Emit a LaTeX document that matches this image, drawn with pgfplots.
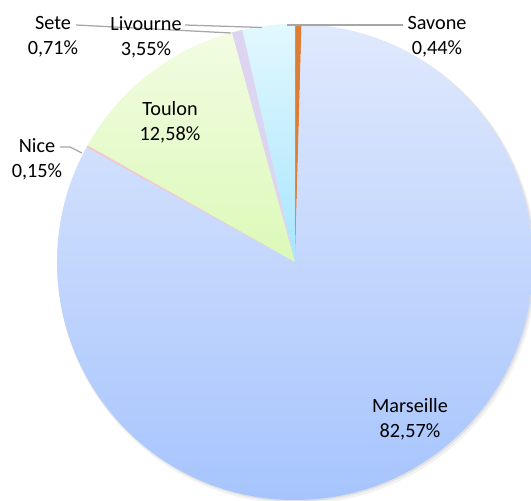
\documentclass[border=0pt]{standalone}
\usepackage{pgfplots}
\pgfplotsset{compat=1.18}
\usepackage{pgfplotstable}
\usepackage{fontspec}
\setmainfont{Carlito}
\definecolor{leader}{HTML}{A6A6A6}
\definecolor{savB}{HTML}{DC7F35}
\definecolor{marT}{HTML}{E0E9FD}
\definecolor{marB}{HTML}{A6C4FD}
\definecolor{nice}{HTML}{F5C6CF}
\definecolor{touT}{HTML}{F2FCE2}
\definecolor{touB}{HTML}{DCF9B8}
\definecolor{sete}{HTML}{DCD4F1}
\definecolor{livT}{HTML}{E2F8FE}
\definecolor{livB}{HTML}{A8E5FE}
\pgfplotstableread{
name value
Savone 0.44
Marseille 82.57
Nice 0.15
Toulon 12.58
Sete 0.71
Livourne 3.55
}\piedata
\begin{document}
\begin{tikzpicture}[lbl/.style={font=\fontsize{14.4}{17.8}\selectfont, align=center, text=black, inner sep=0pt}]
\pgfplotstablegetelem{0}{value}\of\piedata \let\vA\pgfplotsretval
\pgfplotstablegetelem{1}{value}\of\piedata \let\vB\pgfplotsretval
\pgfplotstablegetelem{2}{value}\of\piedata \let\vC\pgfplotsretval
\pgfplotstablegetelem{3}{value}\of\piedata \let\vD\pgfplotsretval
\pgfplotstablegetelem{4}{value}\of\piedata \let\vE\pgfplotsretval
\pgfplotstablegetelem{5}{value}\of\piedata \let\vF\pgfplotsretval
\pgfmathsetmacro\aA{90}
\pgfmathsetmacro\aB{\aA-3.6*\vA}
\pgfmathsetmacro\aC{\aB-3.6*\vB}
\pgfmathsetmacro\aD{\aC-3.6*\vC}
\pgfmathsetmacro\aE{\aD-3.6*\vD}
\pgfmathsetmacro\aF{\aE-3.6*\vE}
\pgfmathsetmacro\aG{\aF-3.6*\vF}
\begin{axis}[
  scale only axis, width=13.275cm, height=12.525cm,
  xmin=0, xmax=531, ymin=0, ymax=501,
  hide axis, clip=true,
]
% shadow
\fill[black!5] (axis cs:297,236.5) circle[radius=5.99cm];
\fill[black!12] (axis cs:296,238) circle[radius=5.965cm];
% wedges
\fill[savB]
  (axis cs:295,239) -- (axis cs:{295+238*cos(\aA)},{239+238*sin(\aA)}) arc[start angle=\aA, end angle=\aB, radius=5.95cm] -- cycle;
\shade[top color=marT, bottom color=marB]
  (axis cs:295,239) -- (axis cs:{295+238*cos(\aB)},{239+238*sin(\aB)}) arc[start angle=\aB, end angle=\aC, radius=5.95cm] -- cycle;
\fill[nice]
  (axis cs:295,239) -- (axis cs:{295+238*cos(\aC)},{239+238*sin(\aC)}) arc[start angle=\aC, end angle=\aD, radius=5.95cm] -- cycle;
\shade[top color=touT, bottom color=touB]
  (axis cs:295,239) -- (axis cs:{295+238*cos(\aD)},{239+238*sin(\aD)}) arc[start angle=\aD, end angle=\aE, radius=5.95cm] -- cycle;
\fill[sete]
  (axis cs:295,239) -- (axis cs:{295+238*cos(\aE)},{239+238*sin(\aE)}) arc[start angle=\aE, end angle=\aF, radius=5.95cm] -- cycle;
\shade[top color=livT, bottom color=livB]
  (axis cs:295,239) -- (axis cs:{295+238*cos(\aF)},{239+238*sin(\aF)}) arc[start angle=\aF, end angle=\aG, radius=5.95cm] -- cycle;
% leader lines
\draw[leader, line width=0.9pt] (axis cs:287,476) -- (axis cs:403,476);
\draw[leader, line width=0.9pt] (axis cs:185,476) -- (axis cs:262,473.5);
\draw[leader, line width=0.9pt] (axis cs:76,476) -- (axis cs:231,468);
\draw[leader, line width=0.9pt] (axis cs:60,354) -- (axis cs:70,354) -- (axis cs:82,348);
% labels
\node[lbl] at (axis cs:410,82) {Marseille\\82,57\%};
\node[lbl] at (axis cs:170,379) {Toulon\\12,58\%};
\node[lbl] at (axis cs:53,464) {Sete\\0,71\%};
\node[lbl] at (axis cs:146,464) {Livourne\\3,55\%};
\node[lbl] at (axis cs:437,464) {Savone\\0,44\%};
\node[lbl] at (axis cs:37,342) {Nice\\0,15\%};
\end{axis}
\pgfresetboundingbox
\useasboundingbox (current axis.south west) rectangle (current axis.north east);
\end{tikzpicture}
\end{document}
